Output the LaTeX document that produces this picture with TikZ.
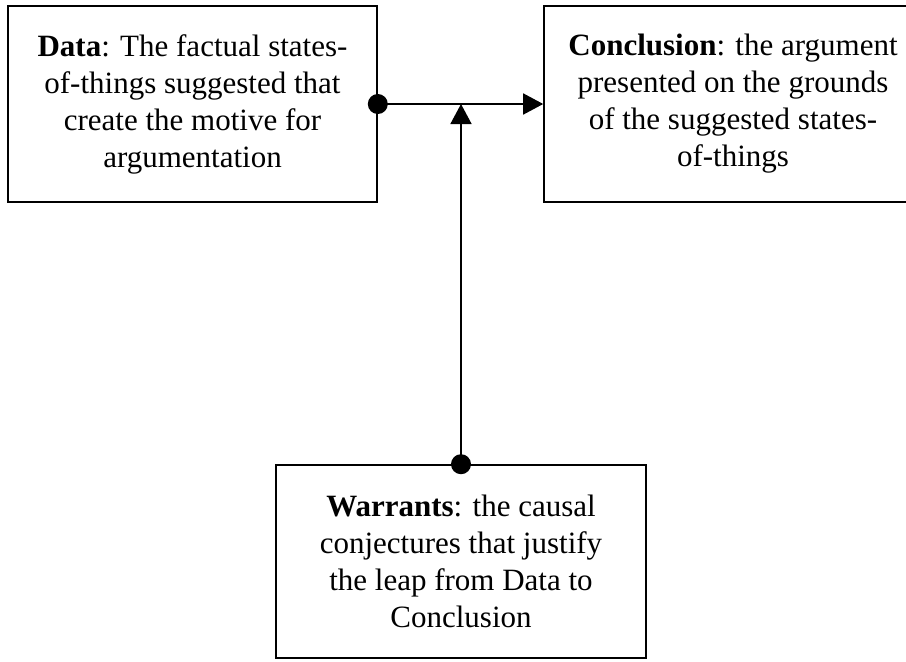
\documentclass[tikz,border=0pt]{standalone}
\usepackage{fontspec}
\setmainfont{Liberation Serif}
\usetikzlibrary{arrows.meta}
\begin{document}
\begin{tikzpicture}[x=1pt,y=-1pt,
  box/.style={draw, line width=1.6pt, rectangle, inner sep=0pt, align=center,
    font=\fontsize{31}{37}\selectfont},
  link/.style={line width=1.6pt, -{Triangle[length=20pt,width=21pt]}}]
  \useasboundingbox (0,0) rectangle (906,662);
  \clip (0,0) rectangle (906,662);

  % the three boxes of the argument scheme
  \node[box, minimum width=369pt, minimum height=196pt] (data) at (192.5,104)
    {\textbf{Data}: The factual states-\\of-things suggested that\\create the motive for\\argumentation};
  \node[box, minimum width=378pt, minimum height=196pt] (concl) at (733,104)
    {\textbf{Conclusion}: the argument\\presented on the grounds\\of the suggested states-\\of-things};
  \node[box, minimum width=370pt, minimum height=193pt] (warr) at (461,561.5)
    {\textbf{Warrants}: the causal\\conjectures that justify\\the leap from Data to\\Conclusion};

  % Data leads to Conclusion
  \fill (data.east) circle[radius=10pt];
  \draw[link] (data.east) -- (concl.west);

  % Warrants support the step
  \coordinate (step) at (warr.north |- data.east);
  \fill (warr.north) circle[radius=10pt];
  \draw[link] (warr.north) -- (step);
\end{tikzpicture}
\end{document}
